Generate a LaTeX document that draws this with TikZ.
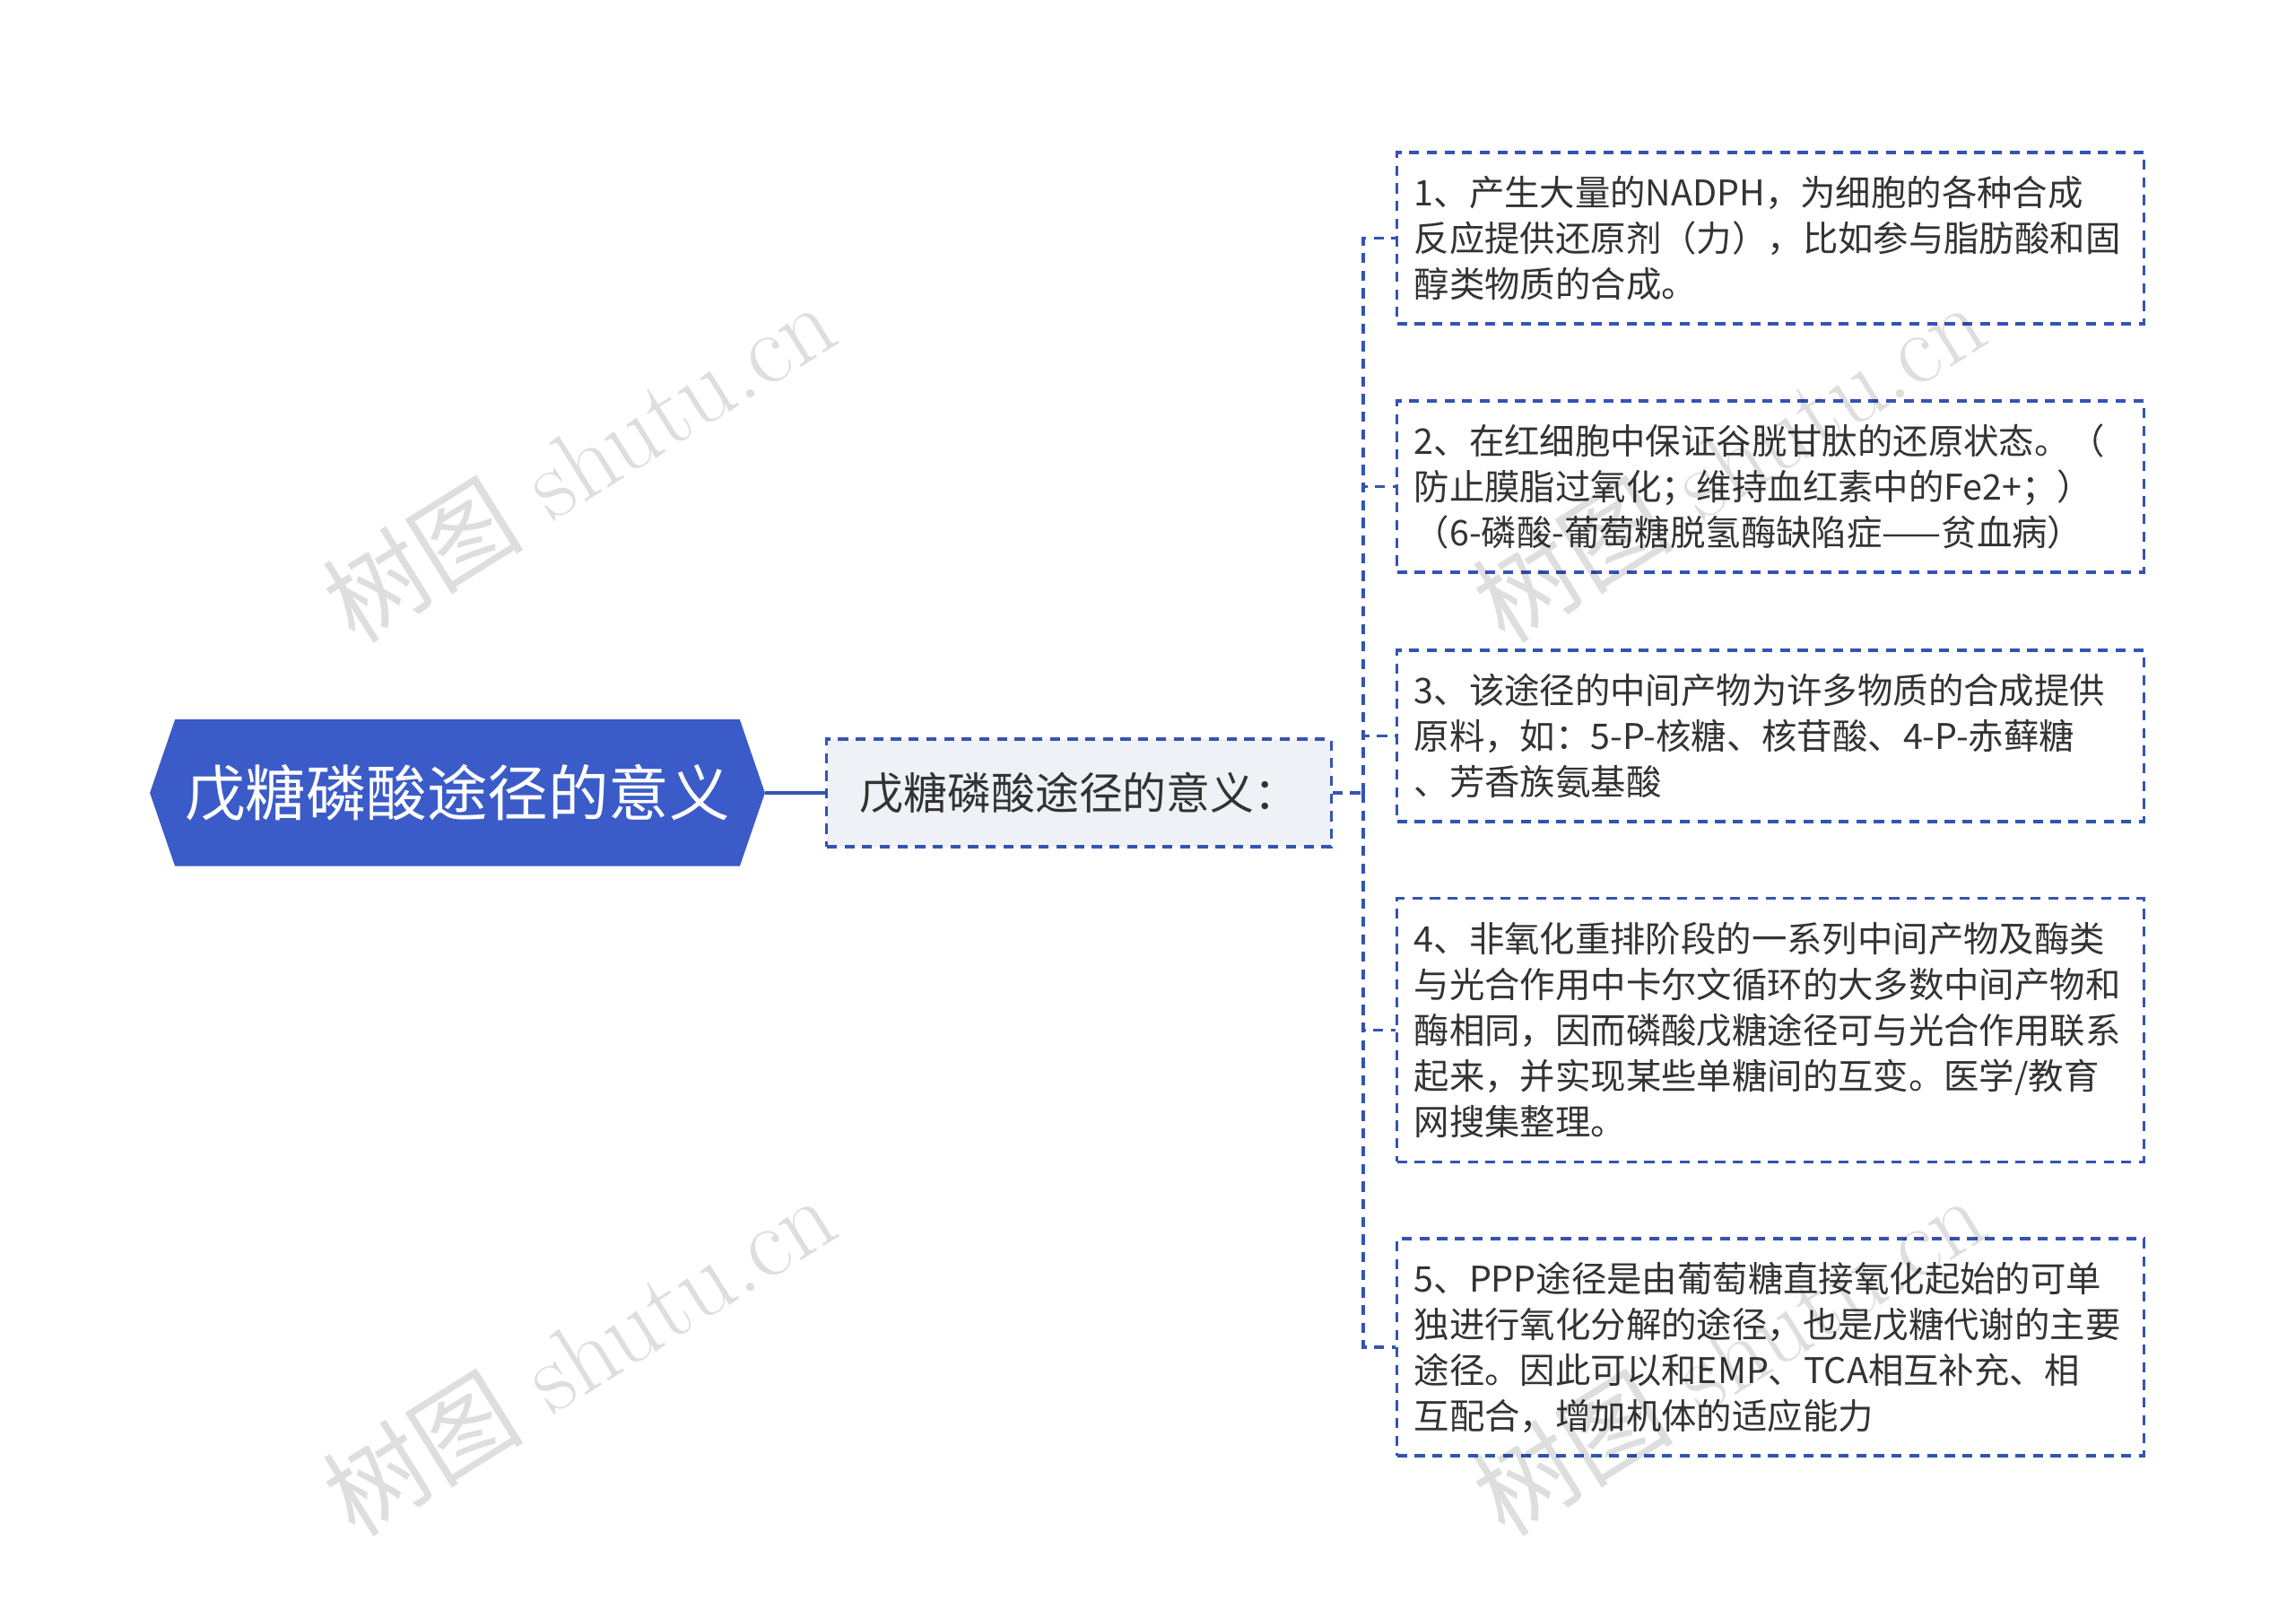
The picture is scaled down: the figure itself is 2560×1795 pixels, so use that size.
\documentclass[tikz,border=0pt]{standalone}
\usepackage{fontspec}
\newfontfamily\cjk{Noto Sans CJK SC}
\usetikzlibrary{backgrounds}
\definecolor{rootblue}{HTML}{3B5BC8}
\definecolor{linkblue}{HTML}{3454B4}
\definecolor{subfill}{HTML}{EEF2F7}
\definecolor{textgray}{HTML}{333333}
\tikzstyle{dashbox}=[line width=0.9pt,dash pattern=on 3.2pt off 2.4pt]
\tikzstyle{rootnode}=[text=white,font=\cjk\fontsize{19.2}{23}\selectfont,minimum width=6.28cm,minimum height=1.62cm,inner sep=0pt]
\tikzstyle{subnode}=[draw=linkblue,dashbox,fill=subfill,text=textgray,font=\cjk\fontsize{13.9}{17}\selectfont,minimum width=5.62cm,minimum height=1.2cm,inner sep=0pt]
\tikzstyle{leafnode}=[draw=linkblue,dashbox,text=textgray,font=\cjk\fontsize{11.2}{14.5}\selectfont,text width=7.94cm,align=left,inner xsep=0.19cm,inner ysep=0pt]
\tikzstyle{link}=[linkblue,dashbox]
\tikzstyle{rootlink}=[linkblue,line width=1.4pt]
\tikzstyle{wmark}=[rotate=32,text=black,opacity=0.13,font=\fontsize{32}{36}\selectfont]
\newcommand{\wmtext}{{\cjk 树图} shutu.cn}

\begin{document}
\begin{tikzpicture}[x=0.01cm,y=-0.01cm]
    \useasboundingbox (0,0) rectangle (2560,1795);
    % root
    \node[rootnode] (root) at (510,884) {戊糖磷酸途径的意义};
    \coordinate (rootL) at ([xshift=-0.28cm]root.west);
    \coordinate (rootR) at ([xshift=0.28cm]root.east);
    \begin{pgfonlayer}{background}
	 \fill[white] (0,0) rectangle (2560,1795);
	 \fill[rootblue] (root.north west) -- (root.north east) -- (rootR) -- (root.south east) -- (root.south west) -- (rootL) -- cycle;
    \end{pgfonlayer}
    \node[subnode] (sub) at (1203,884) {戊糖磷酸途径的意义：};
    \draw[rootlink] (rootR) -- (sub.west);
    % leaves
    \node[leafnode,minimum height=1.91cm] (b1) at (1974,265.5) {1、产生大量的NADPH，为细胞的各种合成\\反应提供还原剂（力），比如参与脂肪酸和固\\醇类物质的合成。};
    \node[leafnode,minimum height=1.91cm] (b2) at (1974,542.5) {2、在红细胞中保证谷胱甘肽的还原状态。（\\防止膜脂过氧化；维持血红素中的Fe2+；）\\（6-磷酸-葡萄糖脱氢酶缺陷症——贫血病）};
    \node[leafnode,minimum height=1.91cm] (b3) at (1974,820.5) {3、该途径的中间产物为许多物质的合成提供\\原料，如：5-P-核糖、核苷酸、4-P-赤藓糖\\、芳香族氨基酸};
    \node[leafnode,minimum height=2.93cm] (b4) at (1974,1148.5) {4、非氧化重排阶段的一系列中间产物及酶类\\与光合作用中卡尔文循环的大多数中间产物和\\酶相同，因而磷酸戊糖途径可与光合作用联系\\起来，并实现某些单糖间的互变。医学/教育\\网搜集整理。};
    \node[leafnode,minimum height=2.42cm] (b5) at (1974,1502) {5、PPP途径是由葡萄糖直接氧化起始的可单\\独进行氧化分解的途径，也是戊糖代谢的主要\\途径。因此可以和EMP、TCA相互补充、相\\互配合，增加机体的适应能力};
    % connectors
    \coordinate (fork) at (1520,884);
    \draw[link] (sub.east) -- (fork);
    \foreach \b in {b1,b2,b3,b4,b5}
	 \draw[link] (fork) |- (\b.west);
    % watermark
    \node[wmark] (wm1) at (645,514) {\wmtext};
    \node[wmark] (wm2) at (645,1510) {\wmtext};
    \node[wmark] (wm3) at (1927,514) {\wmtext};
    \node[wmark] (wm4) at (1927,1510) {\wmtext};
\end{tikzpicture}
\end{document}
